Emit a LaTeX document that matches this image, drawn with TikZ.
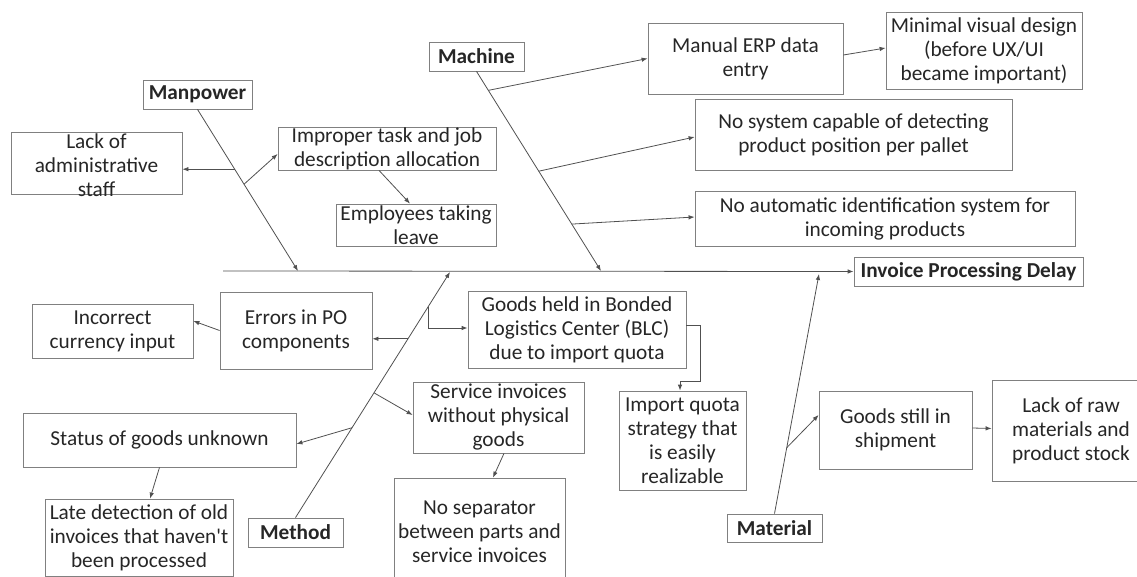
\documentclass[tikz,border=0pt]{standalone}
\usepackage{fontspec}
\setmainfont{Carlito}
\usetikzlibrary{arrows.meta,calc}
\definecolor{boxc}{HTML}{808080}
\definecolor{linec}{HTML}{505050}
\definecolor{txtc}{HTML}{262626}
\begin{document}
\begin{tikzpicture}[x=1pt,y=-1pt,
  bx/.style={draw=boxc, line width=0.8pt, inner sep=0pt, align=center, text=txtc, font=\fontsize{21.3}{24}\selectfont},
  hd/.style={bx, font=\fontsize{21.3}{24}\selectfont\bfseries},
  sz/.style 2 args={minimum width=#1pt, minimum height=#2pt},
  con/.style={draw=linec, line width=0.8pt},
  arr/.style={con, -{Latex[length=6pt,width=4.5pt]}}]
\useasboundingbox (0,0) rectangle (1137,577);
\clip (0,0) rectangle (1137,577);

% category / head boxes
\node[hd, sz={109}{29}] (manpower) at (197.5,94.5) {Manpower};
\node[hd, sz={95}{29}] (machine) at (476.5,56.5) {Machine};
\node[hd, sz={95}{29}] (method) at (295.5,532.5) {Method};
\node[hd, sz={95}{28}] (material) at (774.5,528) {Material};
\node[hd, sz={229}{29}] (ipd) at (968.5,271.5) {Invoice Processing Delay};

% cause boxes
\node[bx, sz={171}{62}] (lackadmin) at (96.5,163) {};
\node[align=center, text=txtc, font=\fontsize{21.3}{24}\selectfont, inner sep=0pt] (lackadmin-t) at (96.5,165) {Lack of\\administrative\\staff};
\node[bx, sz={218}{43}] (improper) at (387,148.5) {Improper task and job\\description allocation};
\node[bx, sz={160}{42}] (employees) at (416,225) {Employees taking\\leave};
\node[bx, sz={195}{71}] (manual) at (745.5,58.5) {Manual ERP data\\entry};
\node[bx, sz={196}{77}] (minimal) at (984,50.5) {Minimal visual design\\(before UX/UI\\became important)};
\node[bx, sz={317}{71}] (nosystem) at (853.5,134.5) {No system capable of detecting\\product position per pallet};
\node[bx, sz={380}{55}] (noauto) at (885,218.5) {No automatic identification system for\\incoming products};
\node[bx, sz={161}{54}] (incorrect) at (112.5,331) {Incorrect\\currency input};
\node[bx, sz={152}{77}] (errors) at (296,330.5) {Errors in PO\\components};
\node[bx, sz={218}{77}] (goodsheld) at (577,329.5) {Goods held in Bonded\\Logistics Center (BLC)\\due to import quota};
\node[bx, sz={171}{71}] (service) at (498.5,417.5) {Service invoices\\without physical\\goods};
\node[bx, sz={127}{99}] (iq) at (682.5,440.5) {Import quota\\strategy that\\is easily\\realizable};
\node[bx, sz={273}{54}] (status) at (159.5,440) {Status of goods unknown};
\node[bx, sz={188}{77}] (late) at (139,537.5) {Late detection of old\\invoices that haven\textquotesingle t\\been processed};
\node[bx, sz={171}{108}] (nosep) at (479.5,532) {No separator\\between parts and\\service invoices};
\node[bx, sz={153}{78}] (goodsstill) at (895.5,430) {Goods still in\\shipment};
\node[bx, sz={158}{101}] (lackraw) at (1071,430.5) {Lack of raw\\materials and\\product stock};

% spine
\coordinate (spineL) at (223,271);
\draw[arr] (spineL) -- (ipd.west);

% bones
\coordinate (mpE) at (298,271);
\coordinate (msE) at (601,271);
\coordinate (mdE) at (450,272);
\coordinate (mtE) at (819,274);
\draw[arr] (manpower.south) -- (mpE);
\draw[arr] (machine.south) -- (msE);
\draw[arr] (method.north) -- (mdE);
\draw[arr] (material.north) -- (mtE);

% manpower branches
\coordinate (mpA) at ($(manpower.south)!0.37!(mpE)$);
\coordinate (mpB) at ($(manpower.south)!0.463!(mpE)$);
\draw[arr] (mpA) -- (mpA -| lackadmin.east);
\draw[arr] (mpB) -- ([yshift=-5.5pt]improper.west);
\draw[arr] ([xshift=-8pt]improper.south) -- ([xshift=-6pt]employees.north);

% machine branches
\coordinate (msA) at ($(machine.south)!0.095!(msE)$);
\coordinate (msB) at ($(machine.south)!0.5!(msE)$);
\coordinate (msC) at ($(machine.south)!0.765!(msE)$);
\draw[arr] (msA) -- (manual.west);
\draw[arr] (msB) -- ([yshift=-2.5pt]nosystem.west);
\draw[arr] (msC) -- ([yshift=1.5pt]noauto.west);
\draw[arr] ([yshift=3.5pt]manual.east) -- ([yshift=2.5pt]minimal.west);

% method branches
\coordinate (mdA) at ($(method.north)!0.728!(mdE)$);
\coordinate (mdB) at ($(method.north)!0.858!(mdE)$);
\coordinate (mdC) at ($(method.north)!0.508!(mdE)$);
\coordinate (mdD) at ($(method.north)!0.366!(mdE)$);
\draw[arr] (mdA) -- (mdA -| errors.east);
\draw[arr] (mdB) |- ([yshift=1.5pt]goodsheld.west);
\draw[arr] (mdC) -- ([yshift=2.5pt]service.west);
\draw[arr] (mdD) -- ([yshift=-4pt]status.east);
\draw[arr] (errors.west) -- ([yshift=10pt]incorrect.east);
\draw[arr] (status.south) -- ([xshift=11pt]late.north);
\draw[arr] ([xshift=5.5pt]service.south) -- ([xshift=13.5pt]nosep.north);
\draw[arr] ([yshift=4pt]goodsheld.east) -- ++(14,0) -- ++(0,56) -| ([xshift=-2.5pt]iq.north);

% material branches
\coordinate (mtA) at ($(material.north)!0.275!(mtE)$);
\draw[arr] (mtA) -- ([yshift=15pt]goodsstill.west);
\draw[arr] ([yshift=2pt]goodsstill.east) -- ([yshift=2pt]lackraw.west);
\end{tikzpicture}
\end{document}
